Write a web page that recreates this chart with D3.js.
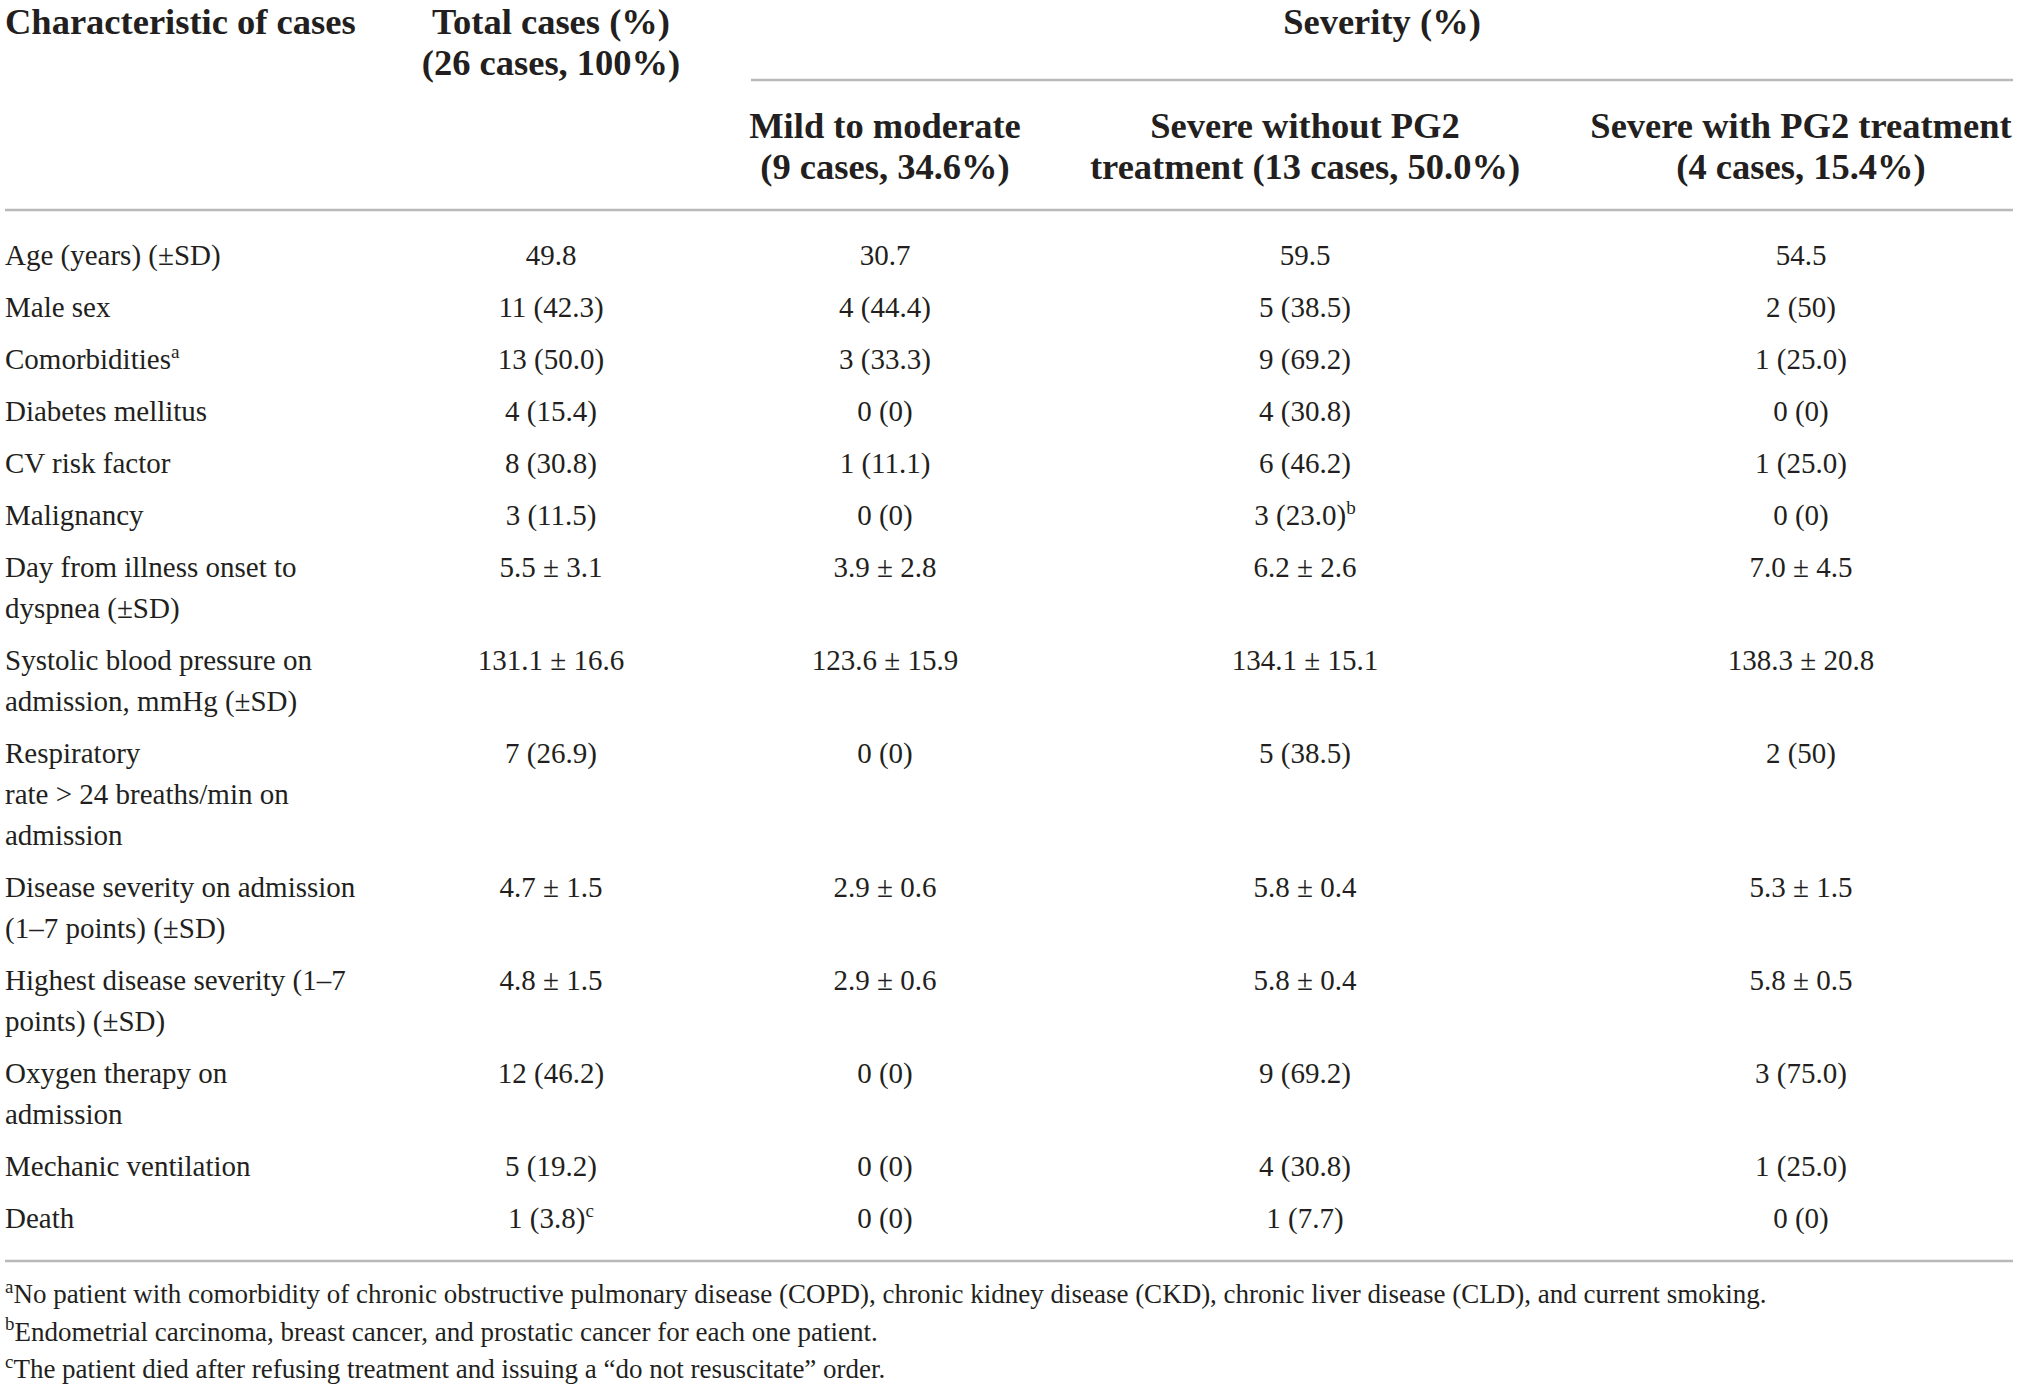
<!DOCTYPE html>
<html>
<head>
<meta charset="utf-8">
<script src="https://cdn.jsdelivr.net/npm/d3@7"></script>
<style>
  html, body { margin: 0; padding: 0; background: #fff; }
  svg text { font-family: "Liberation Serif", "DejaVu Serif", serif; fill: #231f20; }
</style>
</head>
<body>
<svg id="chart"></svg>
<script>
// ---- table content ----
var characteristics = [
  ["Age (years) (\u00b1SD)"],
  ["Male sex"],
  ["Comorbidities^a"],
  ["Diabetes mellitus"],
  ["CV risk factor"],
  ["Malignancy"],
  ["Day from illness onset to", "dyspnea (\u00b1SD)"],
  ["Systolic blood pressure on", "admission, mmHg (\u00b1SD)"],
  ["Respiratory", "rate > 24 breaths/min on", "admission"],
  ["Disease severity on admission", "(1\u20137 points) (\u00b1SD)"],
  ["Highest disease severity (1\u20137", "points) (\u00b1SD)"],
  ["Oxygen therapy on", "admission"],
  ["Mechanic ventilation"],
  ["Death"]
];
var totalCases = ["49.8", "11 (42.3)", "13 (50.0)", "4 (15.4)", "8 (30.8)", "3 (11.5)",
  "5.5 \u00b1 3.1", "131.1 \u00b1 16.6", "7 (26.9)", "4.7 \u00b1 1.5", "4.8 \u00b1 1.5",
  "12 (46.2)", "5 (19.2)", "1 (3.8)^c"];
var mildModerate = ["30.7", "4 (44.4)", "3 (33.3)", "0 (0)", "1 (11.1)", "0 (0)",
  "3.9 \u00b1 2.8", "123.6 \u00b1 15.9", "0 (0)", "2.9 \u00b1 0.6", "2.9 \u00b1 0.6",
  "0 (0)", "0 (0)", "0 (0)"];
var severeWithoutPG2 = ["59.5", "5 (38.5)", "9 (69.2)", "4 (30.8)", "6 (46.2)", "3 (23.0)^b",
  "6.2 \u00b1 2.6", "134.1 \u00b1 15.1", "5 (38.5)", "5.8 \u00b1 0.4", "5.8 \u00b1 0.4",
  "9 (69.2)", "4 (30.8)", "1 (7.7)"];
var severeWithPG2 = ["54.5", "2 (50)", "1 (25.0)", "0 (0)", "1 (25.0)", "0 (0)",
  "7.0 \u00b1 4.5", "138.3 \u00b1 20.8", "2 (50)", "5.3 \u00b1 1.5", "5.8 \u00b1 0.5",
  "3 (75.0)", "1 (25.0)", "0 (0)"];

var firstHeader = "Characteristic of cases";
var totalHeader = ["Total cases (%)", "(26 cases, 100%)"];
var groupHeader = "Severity (%)";
var severityHeaders = [
  ["Mild to moderate", "(9 cases, 34.6%)"],
  ["Severe without PG2", "treatment (13 cases, 50.0%)"],
  ["Severe with PG2 treatment", "(4 cases, 15.4%)"]
];
var footnotes = [
  "^aNo patient with comorbidity of chronic obstructive pulmonary disease (COPD), chronic kidney disease (CKD), chronic liver disease (CLD), and current smoking.",
  "^bEndometrial carcinoma, breast cancer, and prostatic cancer for each one patient.",
  "^cThe patient died after refusing treatment and issuing a \u201cdo not resuscitate\u201d order."
];

// ---- layout ----
var width = 2019, height = 1389,
    left = 5, right = 2013,
    bodySize = 29, headSize = 36.5, noteSize = 27,
    lineH = 41, rowGap = 52;

var svg = d3.select("#chart").attr("width", width).attr("height", height);

var columns = ["total", "mild", "sevWo", "sevW"];
var colX = d3.scaleOrdinal().domain(columns).range([551, 885, 1305, 1801]);
var colData = {total: totalCases, mild: mildModerate, sevWo: severeWithoutPG2, sevW: severeWithPG2};

// row baselines: first line of each row
var rowY = [], y = 265;
characteristics.forEach(function(lines){
  rowY.push(y);
  y += rowGap + (lines.length - 1) * lineH;
});

// writes "text^x" as text with a superscript tspan
function richText(sel, str, size){
  var parts = str.split("^");
  sel.append("tspan").text(parts[0]);
  if(parts.length > 1){
    var sup = parts[1].charAt(0), rest = parts[1].slice(1);
    sel.append("tspan").attr("font-size", size * 0.66).attr("dy", -size * 0.38).text(sup);
    if(rest) sel.append("tspan").attr("dy", size * 0.38).text(rest);
  }
}

function rule(x1, x2, yy){
  svg.append("line").attr("x1", x1).attr("x2", x2).attr("y1", yy).attr("y2", yy)
    .attr("stroke", "#b9b9b9").attr("stroke-width", 2.5);
}

// ---- header ----
var head = svg.append("g").attr("font-weight", "bold").attr("font-size", headSize);
head.append("text").attr("x", left).attr("y", 34).text(firstHeader);
head.selectAll("text.total").data(totalHeader).enter().append("text")
  .attr("class", "total").attr("text-anchor", "middle")
  .attr("x", colX("total")).attr("y", function(d, i){ return 34 + i * lineH; })
  .text(function(d){ return d; });
head.append("text").attr("text-anchor", "middle").attr("x", 1382).attr("y", 34).text(groupHeader);
rule(751, right, 80);

severityHeaders.forEach(function(lines, k){
  head.selectAll("text.sev" + k).data(lines).enter().append("text")
    .attr("class", "sev" + k).attr("text-anchor", "middle")
    .attr("x", colX(columns[k + 1])).attr("y", function(d, i){ return 138 + i * lineH; })
    .text(function(d){ return d; });
});
rule(left, right, 210);

// ---- body ----
var body = svg.append("g").attr("font-size", bodySize);
characteristics.forEach(function(lines, r){
  lines.forEach(function(line, i){
    richText(body.append("text").attr("x", left).attr("y", rowY[r] + i * lineH), line, bodySize);
  });
  columns.forEach(function(c){
    richText(body.append("text").attr("text-anchor", "middle")
      .attr("x", colX(c)).attr("y", rowY[r]), colData[c][r], bodySize);
  });
});
rule(left, right, 1261);

// ---- footnotes ----
var notes = svg.append("g").attr("font-size", noteSize);
footnotes.forEach(function(n, i){
  var t = notes.append("text").attr("x", left).attr("y", 1303 + i * 37.5);
  var letter = n.charAt(1), rest = n.slice(2);
  t.append("tspan").attr("font-size", noteSize * 0.7).attr("dy", -noteSize * 0.38).text(letter);
  t.append("tspan").attr("dy", noteSize * 0.38).text(rest);
});
</script>
</body>
</html>
